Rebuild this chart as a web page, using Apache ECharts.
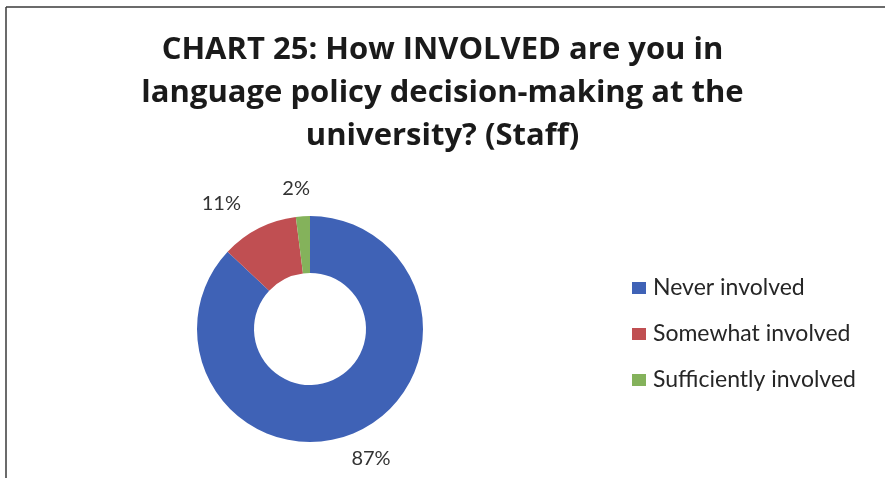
<!DOCTYPE html>
<html>
<head>
<meta charset="utf-8">
<script src="https://cdn.jsdelivr.net/npm/echarts@6/dist/echarts.min.js"></script>
<style>
  html, body { margin: 0; padding: 0; background: #ffffff; }
  #chart { width: 885px; height: 491px; }
</style>
</head>
<body>
<div id="chart"></div>
<script>
// Survey answers (share of staff, %)
const categories = ['Never involved', 'Somewhat involved', 'Sufficiently involved'];
const shares = [87, 11, 2];
const sliceColors = ['#3f62b6', '#c04f52', '#84b25b'];
const titleText = 'CHART 25: How INVOLVED are you in\nlanguage policy decision-making at the\nuniversity? (Staff)';

const chart = echarts.init(document.getElementById('chart'), null, { renderer: 'canvas' });

const pieData = categories.map((name, i) => ({
  name: name,
  value: shares[i],
  itemStyle: { color: sliceColors[i] }
}));

chart.setOption({
  backgroundColor: '#ffffff',
  animation: false,
  title: {
    text: titleText,
    left: 'center',
    top: 24,
    textStyle: {
      fontFamily: 'Open Sans',
      fontWeight: 'bold',
      fontSize: 31,
      lineHeight: 43,
      color: '#1a1a1a'
    }
  },
  legend: {
    orient: 'vertical',
    left: 627,
    top: 270,
    itemWidth: 14,
    itemHeight: 12,
    itemGap: 20,
    icon: 'rect',
    data: categories,
    textStyle: {
      fontFamily: 'Lato',
      fontSize: 23,
      lineHeight: 26,
      color: '#262626',
      padding: [0, 0, 0, 2]
    }
  },
  graphic: [
    // scanned frame: top and left edges
    { type: 'line', shape: { x1: 6, y1: 7, x2: 885, y2: 7 }, style: { stroke: '#3a3a3a', lineWidth: 1.5 } },
    { type: 'line', shape: { x1: 6, y1: 7, x2: 6, y2: 478 }, style: { stroke: '#3a3a3a', lineWidth: 1.5 } }
  ],
  series: [{
    type: 'pie',
    center: [310, 329],
    radius: [56, 113],
    startAngle: 90,
    clockwise: true,
    avoidLabelOverlap: false,
    data: pieData,
    label: {
      show: true,
      position: 'outside',
      formatter: '{c}%',
      fontFamily: 'Lato',
      fontSize: 20,
      color: '#333333'
    },
    labelLine: { show: false, length: 28, length2: 0 },
    labelLayout: function (params) {
      return { align: params.dataIndex === 1 ? 'right' : 'center' };
    },
    emphasis: { disabled: true }
  }]
});
</script>
</body>
</html>
